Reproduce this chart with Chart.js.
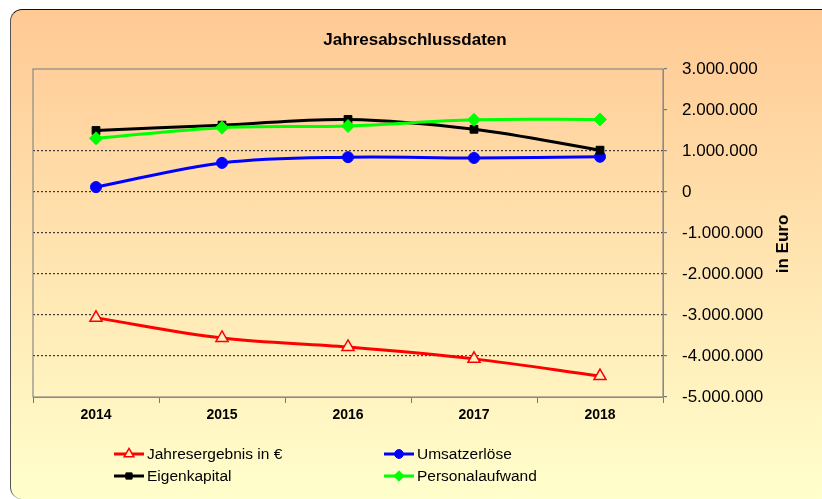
<!DOCTYPE html>
<html><head><meta charset="utf-8">
<script src="https://cdn.jsdelivr.net/npm/chart.js@4.4.1/dist/chart.umd.min.js"></script>
<style>
html,body{margin:0;padding:0;width:822px;height:499px;overflow:hidden;background:#fff;}
#card{position:absolute;left:10px;top:9px;width:814px;height:490px;box-sizing:border-box;border-left:1.5px solid #555;border-top:1.5px solid #111;border-radius:12px 0 0 12px;background:linear-gradient(to bottom,#FFC994 0%,#FFE4B0 50%,#FFFFCC 100%);}
#wrap{position:absolute;left:0;top:0;width:822px;height:499px;}
</style></head>
<body><div id="card"></div><div id="wrap"><canvas id="c" width="822" height="499"></canvas></div>
<script>
const years = ['2014', '2015', '2016', '2017', '2018'];
const jahresergebnis = [-3070000, -3560000, -3780000, -4070000, -4490000];
const umsatzerloese = [120000, 710000, 850000, 830000, 860000];
const eigenkapital = [1500000, 1630000, 1770000, 1530000, 1020000];
const personalaufwand = [1310000, 1570000, 1610000, 1760000, 1770000];
const yMin = -5000000, yMax = 3000000, yStep = 1000000;
const chartTitle = 'Jahresabschlussdaten';
const yTitle = 'in Euro';

const FONT = "'Liberation Sans', Arial, sans-serif";
function fmt(v){
  const neg = v < 0; let s = String(Math.abs(Math.round(v)));
  s = s.replace(/\B(?=(\d{3})+(?!\d))/g, '.');
  return (neg ? '-' : '') + s;
}

const datasets = [
  {label:'Jahresergebnis in €', data:jahresergebnis, borderColor:'#FF0000', backgroundColor:'#FFF1C4', pointStyle:'triangle', pointRadius:7, pointBorderWidth:1.5, order:3},
  {label:'Umsatzerlöse', data:umsatzerloese, borderColor:'#0000FF', backgroundColor:'#0000FF', pointStyle:'circle', pointRadius:5.5, pointBorderWidth:1, order:2},
  {label:'Eigenkapital', data:eigenkapital, borderColor:'#000000', backgroundColor:'#000000', pointStyle:'rect', pointRadius:5.5, pointBorderWidth:1, order:1},
  {label:'Personalaufwand', data:personalaufwand, borderColor:'#00FF00', backgroundColor:'#00FF00', pointStyle:'rectRot', pointRadius:6.5, pointBorderWidth:1, order:0}
];
datasets.forEach(d => { d.borderWidth = 3; d.tension = 0.35; d.pointBackgroundColor = d.backgroundColor; d.pointBorderColor = d.borderColor; d.fill = false; });

function drawMarker(ctx, ds, x, y){
  ctx.save();
  ctx.fillStyle = ds.pointBackgroundColor; ctx.strokeStyle = ds.pointBorderColor; ctx.lineWidth = ds.pointBorderWidth;
  Chart.helpers.drawPoint(ctx, {pointStyle: ds.pointStyle, radius: ds.pointRadius*0.8, borderWidth: ds.pointBorderWidth, rotation:0}, x, y);
  ctx.restore();
}

const deco = {
  id:'deco',
  beforeDatasetsDraw(chart){
    const {ctx, chartArea:a} = chart;
    ctx.save(); ctx.strokeStyle = '#8a8a8a'; ctx.lineWidth = 1.2;
    ctx.strokeRect(a.left, a.top, a.right - a.left, a.bottom - a.top);
    ctx.restore();
  },
  afterDraw(chart){
    const {ctx, chartArea:a} = chart;
    ctx.save();
    ctx.fillStyle = '#000';
    ctx.font = "bold 17px " + FONT; ctx.textAlign = 'center'; ctx.textBaseline = 'middle';
    ctx.fillText(chartTitle, 415, 40);
    ctx.save(); ctx.translate(783, 244); ctx.rotate(-Math.PI/2);
    ctx.font = "bold 17px " + FONT; ctx.fillText(yTitle, 0, 0); ctx.restore();
    const pos = [[114,454],[384,454],[114,476],[384,476]];
    ctx.font = "15.5px " + FONT; ctx.textAlign = 'left';
    chart.data.datasets.forEach((ds, i) => {
      const [x, y] = pos[i];
      ctx.strokeStyle = ds.borderColor; ctx.lineWidth = 3;
      ctx.beginPath(); ctx.moveTo(x, y); ctx.lineTo(x + 30, y); ctx.stroke();
      drawMarker(ctx, ds, x + 15, y);
      ctx.fillStyle = '#000'; ctx.fillText(ds.label, x + 33, y + 1);
    });
    ctx.restore();
  }
};

new Chart(document.getElementById('c'), {
  type:'line',
  data:{labels:years, datasets},
  options:{
    responsive:false, animation:false,
    layout:{padding:{left:33, top:69, right:0, bottom:72}},
    plugins:{legend:{display:false}, title:{display:false}, tooltip:{enabled:false}},
    scales:{
      x:{
        offset:true,
        grid:{offset:true, drawOnChartArea:false, tickLength:6, tickColor:'#777'},
        border:{color:'#8a8a8a'},
        ticks:{color:'#000', font:{family:FONT, size:14, weight:'bold'}, padding:4, maxRotation:0},
        afterFit(s){ s.height = 30; }
      },
      y:{
        position:'right', min:yMin, max:yMax,
        ticks:{stepSize:yStep, color:'#000', font:{family:FONT, size:17}, padding:15, callback:v => fmt(v)},
        grid:{
          color:c => (c.tick && c.tick.value <= 1000000 && c.tick.value > yMin) ? '#3a3a3a' : 'rgba(0,0,0,0)',
          lineWidth:1.2, tickLength:4, tickColor:'#777'
        },
        border:{color:'#8a8a8a', dash:[2,2]},
        afterFit(s){ s.width = 159; }
      }
    }
  },
  plugins:[deco]
});
</script>
</body></html>
